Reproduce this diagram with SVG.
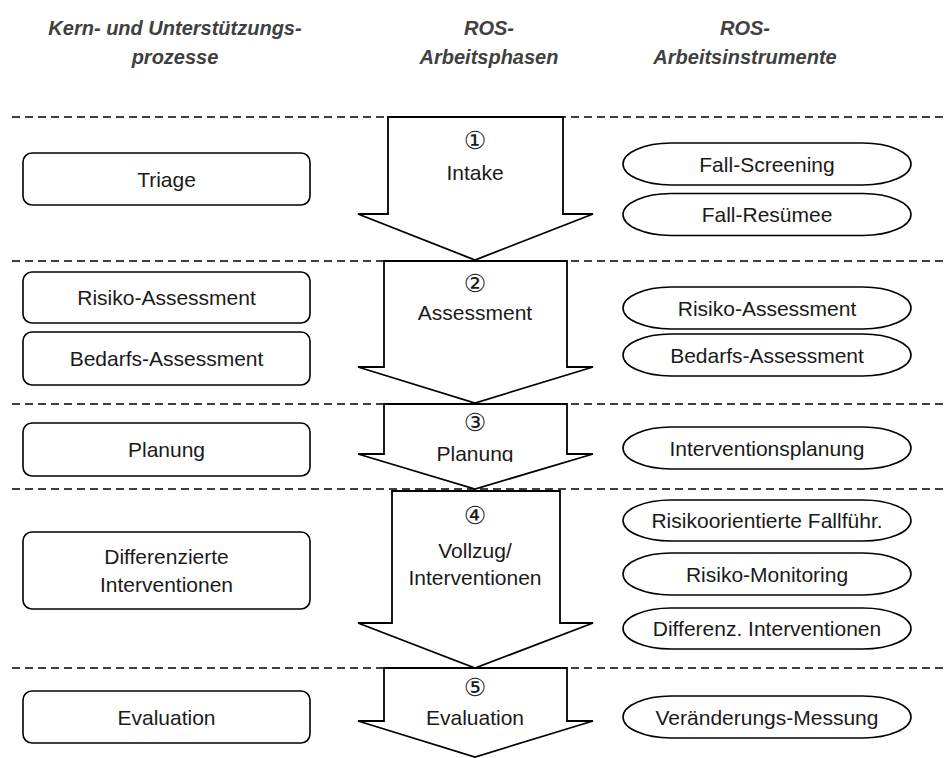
<svg xmlns="http://www.w3.org/2000/svg" width="945" height="758" viewBox="0 0 945 758">
<style>
.hdr{font-family:"Liberation Sans",Arial,sans-serif;font-weight:bold;font-style:italic;font-size:20px;fill:#404040;text-anchor:middle}
.t{font-family:"Liberation Sans",Arial,sans-serif;font-size:21px;fill:#1a1a1a;text-anchor:middle;dominant-baseline:central}
.num{font-family:"DejaVu Sans","Liberation Sans",sans-serif;font-size:25px;fill:#1a1a1a;text-anchor:middle;dominant-baseline:central}
.sep{stroke:#000;stroke-width:1.6;stroke-dasharray:8 5;fill:none}
.box{fill:#fff;stroke:#000;stroke-width:1.6}
.arr{fill:#fff;stroke:#000;stroke-width:1.8;stroke-linejoin:miter}
.ell{fill:#fff;stroke:#000;stroke-width:1.6}
</style>
<defs>
<clipPath id="clip3"><rect x="380" y="404" width="190" height="58"/></clipPath>
</defs>
<rect width="945" height="758" fill="#fff"/>
<g id="headers">
<text class="hdr" x="175" y="35">Kern- und Unterstützungs-</text>
<text class="hdr" x="175" y="64">prozesse</text>
<text class="hdr" x="489" y="35">ROS-</text>
<text class="hdr" x="489" y="64">Arbeitsphasen</text>
<text class="hdr" x="745" y="35">ROS-</text>
<text class="hdr" x="745" y="64">Arbeitsinstrumente</text>
</g>
<g id="connectors">
<line class="sep" x1="12" y1="117" x2="945" y2="117"/>
<line class="sep" x1="12" y1="261" x2="945" y2="261"/>
<line class="sep" x1="12" y1="404" x2="945" y2="404"/>
<line class="sep" x1="12" y1="489" x2="945" y2="489"/>
<line class="sep" x1="12" y1="668" x2="945" y2="668"/>
</g>
<g id="phase1">
<path class="arr" d="M388,117 H563 V214 H593 L475,260 L358,214 H388 Z"/>
<text class="num" x="475" y="140">①</text>
<text class="t" x="475" y="172">Intake</text>
</g>
<g id="phase2">
<path class="arr" d="M384,261 H567 V367 H593 L475,403 L358,367 H384 Z"/>
<text class="num" x="475" y="283">②</text>
<text class="t" x="475" y="312">Assessment</text>
</g>
<g id="phase3">
<path class="arr" d="M384,404 H567 V454 H593 L475,489 L358,454 H384 Z"/>
<text class="num" x="475" y="422">③</text>
<text class="t" x="475" y="453" clip-path="url(#clip3)">Planung</text>
</g>
<g id="phase4">
<path class="arr" d="M392,491 H560 V623 H593 L475,668 L358,623 H392 Z"/>
<text class="num" x="475" y="515">④</text>
<text class="t" x="475" y="550">Vollzug/</text>
<text class="t" x="475" y="577">Interventionen</text>
</g>
<g id="phase5">
<path class="arr" d="M384,668 H567 V721 H593 L475,757 L358,721 H384 Z"/>
<text class="num" x="475" y="687">⑤</text>
<text class="t" x="475" y="717">Evaluation</text>
</g>
<g id="proc-triage">
<rect class="box" x="23" y="153" width="287" height="52" rx="9"/>
<text class="t" x="166.5" y="179">Triage</text>
</g>
<g id="proc-risiko">
<rect class="box" x="23" y="272" width="287" height="51" rx="9"/>
<text class="t" x="166.5" y="297.5">Risiko-Assessment</text>
</g>
<g id="proc-bedarf">
<rect class="box" x="23" y="332" width="287" height="53" rx="9"/>
<text class="t" x="166.5" y="358.5">Bedarfs-Assessment</text>
</g>
<g id="proc-planung">
<rect class="box" x="23" y="423" width="287" height="53" rx="9"/>
<text class="t" x="166.5" y="449.5">Planung</text>
</g>
<g id="proc-interventionen">
<rect class="box" x="23" y="532" width="287" height="77" rx="9"/>
<text class="t" x="166.5" y="556">Differenzierte</text>
<text class="t" x="166.5" y="584">Interventionen</text>
</g>
<g id="proc-evaluation">
<rect class="box" x="23" y="691" width="287" height="52" rx="9"/>
<text class="t" x="166.5" y="717">Evaluation</text>
</g>
<g id="inst-screening">
<rect class="ell" x="623" y="143" width="288" height="42" rx="48" ry="21"/>
<text class="t" x="767" y="164">Fall-Screening</text>
</g>
<g id="inst-resuemee">
<rect class="ell" x="623" y="193.5" width="288" height="42" rx="48" ry="21"/>
<text class="t" x="767" y="214.5">Fall-Resümee</text>
</g>
<g id="inst-risiko">
<rect class="ell" x="623" y="287" width="288" height="42" rx="48" ry="21"/>
<text class="t" x="767" y="308">Risiko-Assessment</text>
</g>
<g id="inst-bedarf">
<rect class="ell" x="623" y="334" width="288" height="42" rx="48" ry="21"/>
<text class="t" x="767" y="355">Bedarfs-Assessment</text>
</g>
<g id="inst-planung">
<rect class="ell" x="623" y="427" width="288" height="42" rx="48" ry="21"/>
<text class="t" x="767" y="448">Interventionsplanung</text>
</g>
<g id="inst-fallfuehrung">
<rect class="ell" x="623" y="500" width="288" height="41" rx="48" ry="20.5"/>
<text class="t" x="767" y="520.5">Risikoorientierte Fallführ.</text>
</g>
<g id="inst-monitoring">
<rect class="ell" x="623" y="553" width="288" height="42" rx="48" ry="21"/>
<text class="t" x="767" y="574">Risiko-Monitoring</text>
</g>
<g id="inst-differenz">
<rect class="ell" x="623" y="608" width="288" height="41" rx="48" ry="20.5"/>
<text class="t" x="767" y="628.5">Differenz. Interventionen</text>
</g>
<g id="inst-messung">
<rect class="ell" x="623" y="696" width="288" height="42" rx="48" ry="21"/>
<text class="t" x="767" y="717">Veränderungs-Messung</text>
</g>
</svg>
